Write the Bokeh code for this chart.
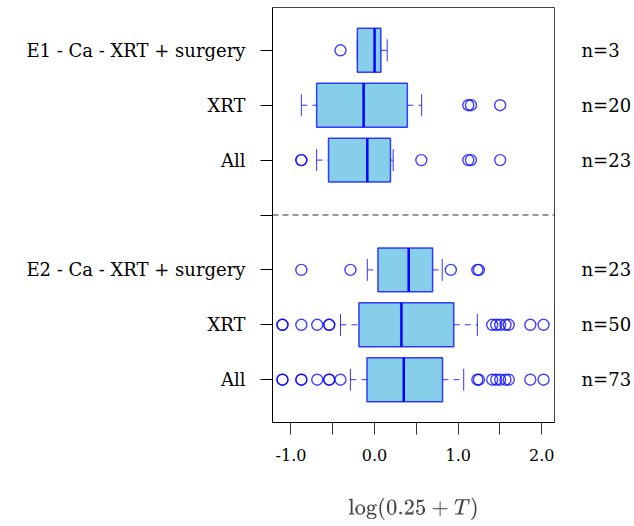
from bokeh.plotting import figure
from bokeh.models import FixedTicker, LinearAxis, Span, Range1d, ColumnDataSource
from bokeh.embed import file_html
from bokeh.resources import INLINE

# ---- data (log(0.25 + T)) ----
labels = ["All", "XRT", "E2 - Ca - XRT + surgery", "All", "XRT", "E1 - Ca - XRT + surgery"]
positions = [1, 2, 3, 5, 6, 7]
counts = [73, 50, 23, 23, 20, 3]
q1 = [-0.091, -0.187, 0.040, -0.551, -0.693, -0.206]
med = [0.349, 0.321, 0.408, -0.087, -0.131, 0.000]
q3 = [0.813, 0.947, 0.694, 0.190, 0.392, 0.075]
wlo = [-0.289, -0.408, -0.087, -0.693, -0.876, -0.206]
whi = [1.066, 1.229, 0.809, 0.222, 0.563, 0.151]
outliers = [
    [-1.102, -1.102, -0.876, -0.876, -0.686, -0.543, -0.543, -0.408, 1.229, 1.248, 1.407, 1.455, 1.502, 1.566, 1.605, 1.863, 2.021],
    [-1.102, -1.102, -0.876, -0.686, -0.543, -0.543, 1.407, 1.455, 1.502, 1.566, 1.605, 1.863, 2.021],
    [-0.876, -0.289, 0.912, 1.229, 1.248],
    [-0.876, -0.876, 0.559, 1.121, 1.153, 1.502],
    [1.121, 1.153, 1.502],
    [-0.408],
]
x_ticks = [-1.0, -0.5, 0.0, 0.5, 1.0, 1.5, 2.0]
x_tick_labels = ["-1.0", "", "0.0", "", "1.0", "", "2.0"]
separator = 4

FONT = "DejaVu Serif"
BLUE = "#0000ff"

p = figure(width=634, height=526, output_backend="svg", toolbar_location=None,
           x_range=Range1d(-1.221, 2.152), y_range=Range1d(0.22, 7.78),
           min_border_left=272, min_border_right=78, min_border_top=7, min_border_bottom=104,
           x_axis_label="$$\\log(0.25 + T)$$")
p.xgrid.visible = False
p.ygrid.visible = False
p.outline_line_color = "#444444"
p.outline_line_width = 1

half = 0.4
cap = 0.2
src = ColumnDataSource(dict(
    y=positions, q1=q1, med=med, q3=q3, wlo=wlo, whi=whi,
    ylo=[v - half for v in positions], yhi=[v + half for v in positions],
    clo=[v - cap for v in positions], chi=[v + cap for v in positions],
))

# whiskers (dashed)
p.segment(x0="q3", x1="whi", y0="y", y1="y", source=src, line_color=BLUE, line_dash="6 5", line_alpha=0.8, line_width=1)
p.segment(x0="wlo", x1="q1", y0="y", y1="y", source=src, line_color=BLUE, line_dash="6 5", line_alpha=0.8, line_width=1)
# caps
p.segment(x0="whi", x1="whi", y0="clo", y1="chi", source=src, line_color=BLUE, line_alpha=0.8, line_width=1)
p.segment(x0="wlo", x1="wlo", y0="clo", y1="chi", source=src, line_color=BLUE, line_alpha=0.8, line_width=1)
# boxes
p.hbar(y="y", left="q1", right="q3", height=2 * half, source=src,
       fill_color="skyblue", line_color=BLUE, line_alpha=0.75, line_width=1.5)
# medians
p.segment(x0="med", x1="med", y0="ylo", y1="yhi", source=src, line_color=BLUE, line_width=2.5)

# outliers
ox, oy = [], []
for pos, vals in zip(positions, outliers):
    for v in vals:
        ox.append(v)
        oy.append(pos)
p.scatter(x=ox, y=oy, marker="circle", size=11, fill_color=None, line_color=BLUE, line_alpha=0.75, line_width=1.4)

# separator
p.add_layout(Span(location=separator, dimension="width", line_color="#333333", line_dash="6 4", line_width=1))

# left axis
ya = p.yaxis[0]
ya.ticker = FixedTicker(ticks=positions + [separator])
ov = {pos: lab for pos, lab in zip(positions, labels)}
ov[separator] = ""
ya.major_label_overrides = ov
ya.major_tick_out = 12
ya.major_tick_in = 0
ya.minor_tick_line_color = None
ya.major_label_standoff = 15
ya.major_label_text_font = FONT
ya.major_label_text_font_size = "18px"
ya.major_label_text_color = "black"
ya.axis_line_color = "black"
ya.major_tick_line_color = "black"

# bottom axis
xa = p.xaxis[0]
xa.ticker = FixedTicker(ticks=x_ticks)
xa.major_label_overrides = {t: l for t, l in zip(x_ticks, x_tick_labels)}
xa.major_tick_out = 12
xa.major_tick_in = 0
xa.minor_tick_line_color = None
xa.major_label_standoff = 14
xa.major_label_text_font = FONT
xa.major_label_text_font_size = "16px"
xa.major_label_text_color = "black"
xa.axis_line_color = "black"
xa.major_tick_line_color = "#333333"
xa.axis_label_text_font = FONT
xa.axis_label_text_font_size = "18px"
xa.axis_label_text_font_style = "normal"
xa.axis_label_standoff = 34

# right axis with counts
ra = LinearAxis(ticker=FixedTicker(ticks=positions),
                major_label_overrides={pos: f"n={n}" for pos, n in zip(positions, counts)})
ra.axis_line_color = None
ra.major_tick_line_color = None
ra.minor_tick_line_color = None
ra.major_tick_out = 0
ra.major_tick_in = 0
ra.major_label_standoff = 27
ra.major_label_text_font = FONT
ra.major_label_text_font_size = "18px"
ra.major_label_text_color = "black"
p.add_layout(ra, "right")

open("out.html", "w").write(file_html(p, INLINE))
